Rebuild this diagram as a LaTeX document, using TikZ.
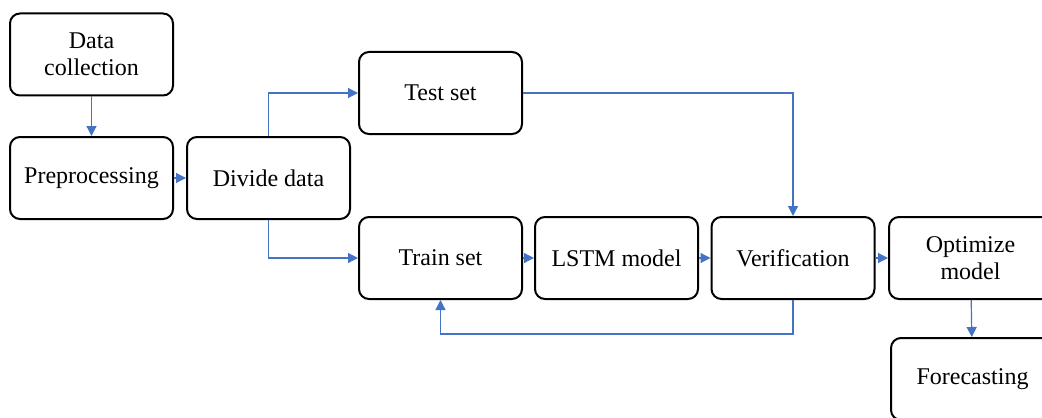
\documentclass[tikz,border=0pt]{standalone}
\usepackage{fontspec}
\setmainfont{Liberation Serif}
\usetikzlibrary{arrows.meta}
\definecolor{linkblue}{RGB}{68,114,196}
\tikzset{box/.style={draw=black, line width=1pt, rounded corners=5pt, minimum width=81.5pt, minimum height=41pt, align=center, inner sep=2pt, font=\fontsize{12pt}{13.5pt}\selectfont},
  link/.style={draw=linkblue, line width=0.6pt, -{Triangle[length=5pt,width=5pt]}}}

\begin{document}
\begin{tikzpicture}[x=0.5pt,y=-0.5pt]
   \useasboundingbox (0,0) rectangle (1042,417);
   \clip (0,0) rectangle (1042,417);
   % boxes
   \node[box] (collect) at (91.5,54.5) {Data\\collection};
   \node[box] (prep) at (91.5,178) {Preprocessing};
   \node[box] (divide) at (268.5,178) {Divide data};
   \node[box] (test) at (440.5,93) {Test set};
   \node[box] (train) at (440.5,258) {Train set};
   \node[box] (lstm) at (616.5,258) {LSTM model};
   \node[box] (verify) at (793,258) {Verification};
   \node[box] (optim) at (970.5,258) {Optimize\\model};
   \node[box] (forecast) at (972.5,379) {Forecasting};
   % links
   \draw[link] (collect) -- (prep);
   \draw[link] (prep) -- (divide);
   \draw[link] (divide.north) |- (test);
   \draw[link] (divide.south) |- (train);
   \draw[link] (test) -| (verify);
   \draw[link] (train) -- (lstm);
   \draw[link] (lstm) -- (verify);
   \draw[link] (verify) -- (optim);
   \draw[link] (verify.south) -- ++(0,34) -| (train.south);
   \draw[link] (optim) -- (forecast);
\end{tikzpicture}
\end{document}
